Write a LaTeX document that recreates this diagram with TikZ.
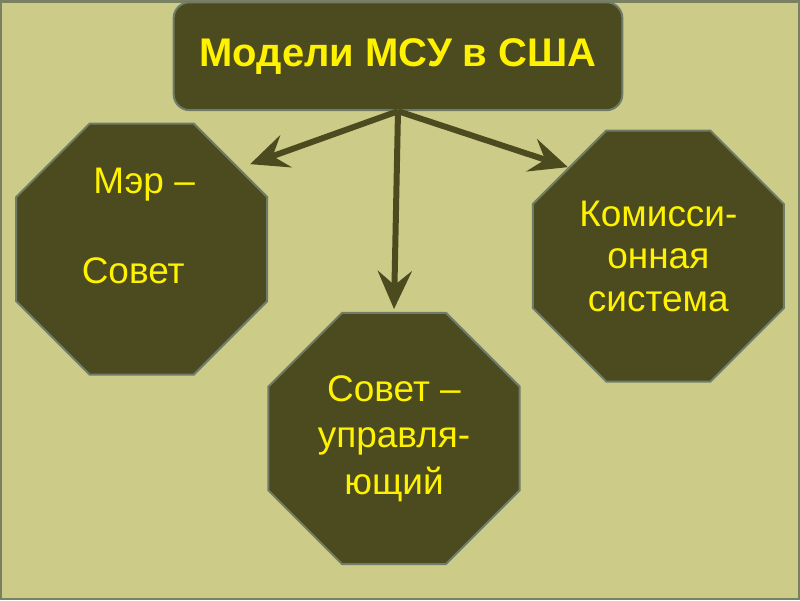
\documentclass[tikz,border=0pt]{standalone}
\usepackage{fontspec}
\setmainfont{Liberation Sans}
\usepackage{xcolor}
\usepackage{tikz}
\usetikzlibrary{calc}
\usetikzlibrary{arrows.meta}
\usetikzlibrary{shapes.geometric}
\definecolor{bgolive}{RGB}{204,204,136}
\definecolor{darkolive}{RGB}{75,75,31}
\definecolor{rimgray}{RGB}{112,124,104}
\definecolor{framegray}{RGB}{122,128,98}
\tikzset{octa/.style={regular polygon, regular polygon sides=8, minimum size=272pt, inner sep=0pt,
  fill=darkolive, draw=rimgray, line width=2pt, text=yellow, align=center, font=\fontsize{37}{45}\selectfont}}
\tikzset{octatext/.style={text=yellow, align=center, font=\fontsize{37}{45}\selectfont}}
\tikzset{arr/.style={darkolive, line width=6pt, -{Stealth[length=38pt,width=34pt,inset=14pt]}}}

\begin{document}
\begin{tikzpicture} [x=1pt, y=-1pt]
\fill[bgolive] (0,0) rectangle (800,600);
\draw[framegray, line width=2.5pt] (1,1) rectangle (799,599);
\useasboundingbox (0,0) rectangle (800,600);

\node[draw=rimgray, line width=2pt, fill=darkolive, rounded corners=16pt, minimum width=449pt, minimum height=108pt,
  text=yellow, font=\fontsize{40}{45}\selectfont\bfseries] (title) at (398,56) {Модели МСУ в США};

\node[octa] (mayor) at (141.5,249) {};
\node[octatext, yshift=23pt] (mayortext) at (mayor.center) {\hspace*{5pt}Мэр –\\[45pt]Совет\hspace*{17pt}};
\node[octa, font=\fontsize{37}{46.5}\selectfont] (manager) at (394,438.5) {Совет –\\управля-\\ющий};
\node[octa, font=\fontsize{37}{42.5}\selectfont] (commission) at (658.5,256) {Комисси-\\онная\\система};

\coordinate (hub) at (title.south);
\coordinate (mayortip) at (250,164);
\coordinate (managertip) at (394,309);
\coordinate (commissiontip) at (568,167);

\draw[arr] (hub) -- (mayortip);
\draw[arr] (hub) -- (managertip);
\draw[arr] (hub) -- (commissiontip);
\end{tikzpicture}
\end{document}
